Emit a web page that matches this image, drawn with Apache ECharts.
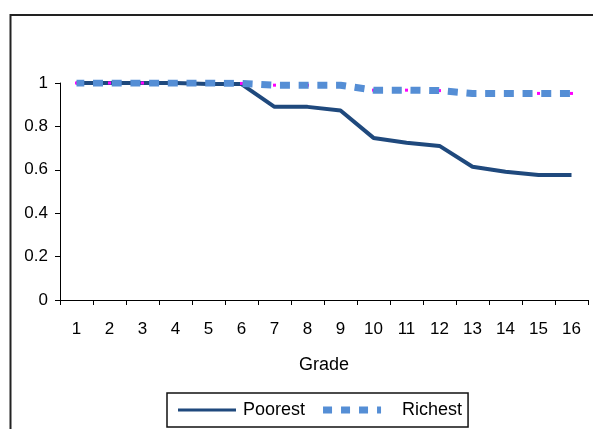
<!DOCTYPE html>
<html>
<head>
<meta charset="utf-8">
<script src="https://cdn.jsdelivr.net/npm/echarts@6/dist/echarts.min.js"></script>
<style>
  html, body { margin: 0; padding: 0; background: #fff; }
  #chart { width: 593px; height: 429px; }
</style>
</head>
<body>
<div id="chart"></div>
<script>
// Share of pupils still enrolled, by grade
const grades = ['1','2','3','4','5','6','7','8','9','10','11','12','13','14','15','16'];
const poorest = [1, 1, 1, 1, 0.995, 0.995, 0.89, 0.89, 0.873, 0.747, 0.725, 0.71, 0.614, 0.591, 0.576, 0.576];
const richest = [1, 1, 1, 1, 1, 0.998, 0.99, 0.99, 0.99, 0.967, 0.967, 0.965, 0.952, 0.952, 0.952, 0.952];
const yTicks = [0, 0.2, 0.4, 0.6, 0.8, 1];

const chart = echarts.init(document.getElementById('chart'));
const font = 'Liberation Sans, Arial, sans-serif';

chart.setOption({
  animation: false,
  backgroundColor: '#fff',
  graphic: [
    {
      type: 'rect',
      shape: { x: 10.5, y: 15, width: 600, height: 440 },
      style: { fill: 'none', stroke: '#222', lineWidth: 2 },
      z: -1
    }
  ],
  grid: { left: 60, right: 5, top: 83, bottom: 129 },
  xAxis: {
    type: 'category',
    data: grades,
    boundaryGap: true,
    name: 'Grade',
    nameLocation: 'middle',
    nameGap: 56,
    nameTextStyle: { fontFamily: font, fontSize: 18, color: '#000' },
    axisLine: { lineStyle: { color: '#000', width: 1 } },
    axisTick: { show: true, length: 5, inside: false, lineStyle: { color: '#000' } },
    axisLabel: { fontFamily: font, fontSize: 17, color: '#000', margin: 21 },
    splitLine: { show: false }
  },
  yAxis: {
    type: 'value',
    min: yTicks[0],
    max: yTicks[yTicks.length - 1],
    interval: 0.2,
    axisLine: { show: true, lineStyle: { color: '#000', width: 1 } },
    axisTick: { show: true, length: 5, lineStyle: { color: '#000' } },
    axisLabel: {
      fontFamily: font, fontSize: 17, color: '#000', margin: 12,
      formatter: v => String(Math.round(v * 10) / 10)
    },
    splitLine: { show: false }
  },
  legend: {
    left: 167,
    top: 393,
    padding: [8, 6, 8, 11],
    borderColor: '#111',
    borderWidth: 1.5,
    itemWidth: 58,
    itemHeight: 8,
    itemGap: 18,
    textStyle: { fontFamily: font, fontSize: 18, color: '#000', padding: [0, 0, 0, 2] },
    data: [
      { name: 'Poorest', icon: 'path://M0,0 L58,0 L58,3 L0,3 Z', itemStyle: { color: '#1F497D' } },
      {
        name: 'Richest',
        icon: 'path://M0,0 L9,0 L9,7 L0,7 Z M18,0 L27,0 L27,7 L18,7 Z M36,0 L45,0 L45,7 L36,7 Z M54,0 L58,0 L58,7 L54,7 Z',
        itemStyle: { color: '#558ED5' },
        textStyle: { padding: [0, 0, 0, 16] }
      }
    ]
  },
  series: [
    {
      name: 'Poorest',
      type: 'line',
      data: poorest,
      symbol: 'none',
      color: '#1F497D',
      lineStyle: { color: '#1F497D', width: 4, cap: 'butt' },
      z: 2
    },
    {
      // small point markers sitting under the dashed Richest line
      name: 'Richest points',
      type: 'line',
      data: richest,
      symbol: 'rect',
      symbolSize: [3, 3],
      showSymbol: true,
      itemStyle: { color: '#FF00FF' },
      lineStyle: { width: 0, opacity: 0 },
      silent: true,
      z: 3
    },
    {
      name: 'Richest',
      type: 'line',
      data: richest,
      symbol: 'none',
      color: '#558ED5',
      lineStyle: { color: '#558ED5', width: 7, type: [10, 8.7], dashOffset: 2.2, cap: 'butt' },
      z: 4
    }
  ]
});
</script>
</body>
</html>
